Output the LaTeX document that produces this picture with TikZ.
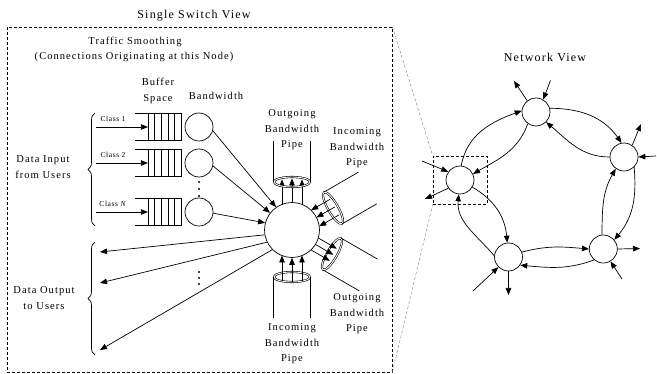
\documentclass[tikz,border=0pt]{standalone}
\usepackage{fontspec}
\setmainfont{Liberation Serif}
\usetikzlibrary{arrows.meta,decorations.pathreplacing,shapes.geometric,calc}
\begin{document}
\begin{tikzpicture}[x=1pt,y=-1pt,
  line width=0.7pt,
  arr/.style={-{Triangle[length=7pt,width=5.5pt]}},
  lbl/.style={font=\fontsize{10.5}{15.5}\selectfont\addfontfeature{LetterSpace=10}, align=center, inner sep=0},
  ttl/.style={font=\fontsize{12}{14}\selectfont\addfontfeature{LetterSpace=10}, inner sep=0},
  cls/.style={font=\fontsize{7.5}{9}\selectfont\addfontfeature{LetterSpace=8}, inner sep=0},
  bw/.style={circle, draw, minimum size=28pt, inner sep=0},
  nn/.style={circle, draw, minimum size=28pt, inner sep=0},
  qbox/.style={draw=none, minimum width=33.4pt, minimum height=27pt, inner sep=0},
  pipe/.style={ellipse, draw, double, double distance=0.9pt, line width=0.6pt, inner sep=0, minimum width=36pt, minimum height=10pt},
  smalldot/.style={circle, fill, inner sep=0, minimum size=2.4pt},
  brc/.style={decorate, decoration={brace, amplitude=7pt}},
  frame/.style={draw, dash pattern=on 3pt off 2pt, line width=0.7pt, inner sep=0},
  guide/.style={draw=gray, dash pattern=on 3pt off 2pt, line width=0.4pt},
]
\fill[white] (0,0) rectangle (657,374);
\useasboundingbox (0,0) rectangle (657,374);

% ---------- Single switch view ----------
\node[frame, minimum width=385pt, minimum height=345pt] (ssv) at (199.5,199.5) {};
\node[ttl] (tssv) at (194,16) {Single Switch View};
\node[lbl] (ts) at (135,42) {Traffic Smoothing};
\node[lbl] (tc) at (134,57) {(Connections Originating at this Node)};
\node[lbl] (tbs) at (158,91) {Buffer\\Space};
\node[lbl] (tbw) at (216,96) {Bandwidth};

% queues
\foreach \n/\y in {1/127,2/163,N/212}{
  \node[qbox] (q\n) at (165,\y) {};
  \draw (q\n.north east) -- ++(-46.7,0);
  \draw (q\n.south east) -- ++(-46.7,0);
  \foreach \k in {0,...,5}
    \draw ($(q\n.north west)+(\k*6.68,0)$) -- ($(q\n.south west)+(\k*6.68,0)$);
  \coordinate (i\n) at (96,\y);
  \draw[arr] (i\n) -- (q\n.west);
  \node[bw] (b\n) at (199,\y) {};
}
\node[cls] (c1) at (113,119) {Class 1};
\node[cls] (c2) at (113,155) {Class 2};
\node[cls] (cN) at (113,204) {Class \textit{N}};

\foreach \y in {182,189,196} \node[smalldot] (du\y) at (199,\y) {};
\foreach \y in {272,278,284} \node[smalldot] (dd\y) at (199,\y) {};

% braces and side labels
\draw[brc] (95,226) -- (95,113);
\draw[brc] (95,355) -- (95,242);
\node[lbl] (din) at (43,167) {Data Input\\from Users};
\node[lbl] (dout) at (44,298) {Data Output\\to Users};

% central switch node
\node[circle, draw, minimum size=55pt, inner sep=0] (sw) at (292,230) {};
\draw[arr] (b1.-15) -- (sw.125);
\draw[arr] (b2.-12) -- (sw.142);
\draw[arr] (bN.-5) -- (sw.165);

\coordinate (o1) at (100,252);
\coordinate (o2) at (100,283);
\coordinate (o3) at (100,350);
\draw[arr] (sw.190) -- (o1);
\draw[arr] (sw.206) -- (o2);
\draw[arr] (sw.225) -- (o3);

% top outgoing pipe
\node[lbl] (lpt) at (292,130) {Outgoing\\Bandwidth\\Pipe};
\draw[arr] (282,205) -- (282,179.5);
\draw[arr] (sw.north) -- (292,178.5);
\draw[arr] (302,205) -- (302,179.5);
\node[pipe] (pt) at (292,182) {};
\draw (pt.west) -- ++(0,-41);
\draw (pt.east) -- ++(0,-41);

% bottom incoming pipe
\node[pipe] (pb) at (292,277) {};
\draw (pb.west) -- ++(0,41);
\draw (pb.east) -- ++(0,41);
\draw[arr] (282,281) -- (282,255.5);
\draw[arr] (292,282) -- (sw.south);
\draw[arr] (302,281) -- (302,255.5);
\node[lbl] (lpb) at (292,344) {Incoming\\Bandwidth\\Pipe};

% upper right incoming pipe
\node[pipe, minimum width=10pt, minimum height=36pt, rotate=30] (pu) at (333,208) {};
\draw (pu.north) -- ++(34.6,-20);
\draw (pu.south) -- ++(34.6,-20);
\draw[arr] (330.2,199.2) -- (311.1,210.2);
\draw[arr] (334.7,207) -- (316.5,217.5);
\draw[arr] (339.2,214.8) -- (319.2,226.3);
\node[lbl] (lpu) at (357,148) {Incoming\\Bandwidth\\Pipe};

% lower right outgoing pipe
\node[pipe, minimum width=10pt, minimum height=36pt, rotate=-30] (pl) at (332,254) {};
\draw (pl.north) -- ++(36.4,21);
\draw (pl.south) -- ++(36.4,21);
\draw[arr] (318.3,238.0) -- (336.8,248.7);
\draw[arr] (315.4,244.4) -- (333.3,254.75);
\draw[arr] (311.0,249.9) -- (329.8,260.8);
\node[lbl] (lpl) at (357,314) {Outgoing\\Bandwidth\\Pipe};

% ---------- Network view ----------
\node[ttl] (tnv) at (545,57) {Network View};
\node[draw, dash pattern=on 3pt off 2pt, line width=0.6pt, minimum width=54pt, minimum height=48pt, inner sep=0] (zb) at (460,180) {};
\draw[guide] (ssv.north east) -- (zb.north west);
\draw[guide] (ssv.south east) -- (zb.south west);

\node[nn] (N1) at (536,112) {};
\node[nn] (N2) at (624,157) {};
\node[nn] (N3) at (460,180) {};
\node[nn] (N4) at (508.5,257) {};
\node[nn] (N5) at (603.3,249) {};

\draw[arr] (N3.85) to[out=80,in=200] (N1.175);
\draw[arr] (N1.235) to[out=250,in=30] (N3.25);
\draw[arr] (N1.15) to[out=0,in=125] (N2.100);
\draw[arr] (N2.180) to[out=180,in=-40] (N1.-45);
\draw[arr] (N2.-45) to[out=-85,in=50] (N5.40);
\draw[arr] (N5.95) to[out=90,in=240] (N2.235);
\draw[arr] (N4.20) to[out=15,in=175] (N5.180);
\draw[arr] (N5.-130) to[out=200,in=-5] (N4.-35);
\draw[arr] (N3.-30) to[out=-30,in=95] (N4.95);
\draw[arr] (N4.175) to[out=130,in=-95] (N3.-95);

\coordinate (e1o) at (514,81);
\coordinate (e1i) at (550.5,80.5);
\coordinate (e2o) at (641,124);
\coordinate (e2i) at (656,156);
\coordinate (e3i) at (422,161);
\coordinate (e3o) at (425,199);
\coordinate (e4o) at (508.5,295);
\coordinate (e4i) at (473,291);
\coordinate (e5o) at (640,248.5);
\coordinate (e5i) at (622,279);

\draw[arr] (N1.128) -- (e1o);
\draw[arr] (e1i) -- (N1.60);
\draw[arr] (N2.55) -- (e2o);
\draw[arr] (e2i) -- (N2.0);
\draw[arr] (e3i) -- (N3.145);
\draw[arr] (N3.215) -- (e3o);
\draw[arr] (N4.south) -- (e4o);
\draw[arr] (e4i) -- (N4.225);
\draw[arr] (N5.east) -- (e5o);
\draw[arr] (e5i) -- (N5.-60);
\end{tikzpicture}
\end{document}
